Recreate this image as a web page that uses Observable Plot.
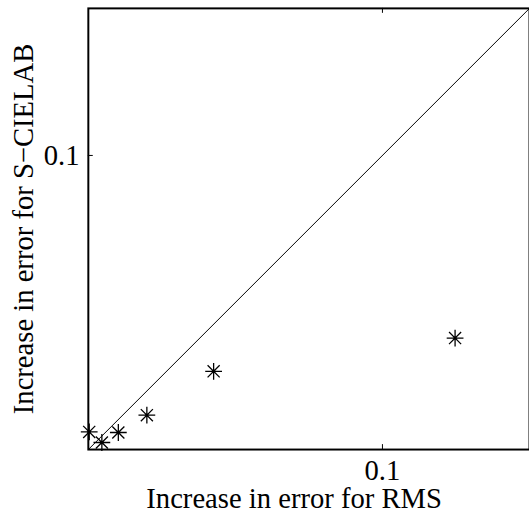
<!DOCTYPE html>
<html>
<head>
<meta charset="utf-8">
<script src="https://cdn.jsdelivr.net/npm/d3@7"></script>
<script src="https://cdn.jsdelivr.net/npm/@observablehq/plot@0.6"></script>
<style>
  html, body { margin: 0; padding: 0; background: #fff; overflow: hidden; width: 529px; height: 520px; }
  svg { display: block; }
</style>
</head>
<body>
<div id="chart"></div>
<script>
// Data
const rmsIncrease = [0.0003, 0.0046, 0.0102, 0.0199, 0.0426, 0.1247];
const scielabIncrease = [0.0060, 0.0024, 0.0058, 0.0117, 0.0266, 0.0379];
const tickValues = [0.1];
const tickLabels = ["0.1"];
const xLabel = "Increase in error for RMS";
const yLabel = "Increase in error for S\u2212CIELAB";
const axisDomain = [0, 0.15];

const points = rmsIncrease.map((x, i) => ({x, y: scielabIncrease[i]}));

const asterisk = {
  draw(ctx, size) {
    const r = Math.sqrt(size / Math.PI);
    const d = r * 0.72;
    ctx.moveTo(-r, 0); ctx.lineTo(r, 0);
    ctx.moveTo(0, -r); ctx.lineTo(0, r);
    ctx.moveTo(-d, -d); ctx.lineTo(d, d);
    ctx.moveTo(-d, d); ctx.lineTo(d, -d);
  }
};

const font = "'Liberation Serif', 'Times New Roman', serif";
const fs = 29;

const chart = Plot.plot({
  width: 536,
  height: 520,
  marginLeft: 89,
  marginTop: 8,
  marginBottom: 65,
  marginRight: 0,
  style: {fontFamily: font, fontSize: fs + "px", color: "black", background: "white"},
  x: {domain: axisDomain, axis: null},
  y: {domain: axisDomain, axis: null},
  marks: [
    Plot.line(axisDomain, {x: d => d, y: d => d, stroke: "black", strokeWidth: 1}),
    Plot.dot(points, {x: "x", y: "y", symbol: asterisk, r: 8.5, stroke: "black", fill: "none", strokeWidth: 1.3}),
    // inward ticks
    Plot.tickX(tickValues, {x: d => d, insetTop: 442, stroke: "black", strokeWidth: 1}),
    Plot.tickX(tickValues, {x: d => d, insetBottom: 442, stroke: "black", strokeWidth: 1}),
    Plot.tickY(tickValues, {y: d => d, insetRight: 442, stroke: "black", strokeWidth: 1}),
    // tick labels
    Plot.text(tickValues, {x: d => d, frameAnchor: "bottom", text: (d, i) => tickLabels[i], lineAnchor: "bottom", dy: 31, fontSize: fs, fontFamily: font, fill: "black"}),
    Plot.text(tickValues, {y: d => d, frameAnchor: "left", text: (d, i) => tickLabels[i], textAnchor: "end", dx: -9, fontSize: fs, fontFamily: font, fill: "black"}),
    // axis labels
    Plot.text([xLabel], {frameAnchor: "bottom", text: d => d, textAnchor: "middle", lineAnchor: "bottom", dy: 59, dx: -15, fontSize: fs, fontFamily: font, fill: "black"}),
    Plot.text([yLabel], {frameAnchor: "left", text: d => d, textAnchor: "middle", rotate: -90, dx: -65, fontSize: fs, fontFamily: font, fill: "black"}),
    Plot.frame({stroke: "black", strokeWidth: 2})
  ]
});
document.getElementById("chart").appendChild(chart);
</script>
</body>
</html>
